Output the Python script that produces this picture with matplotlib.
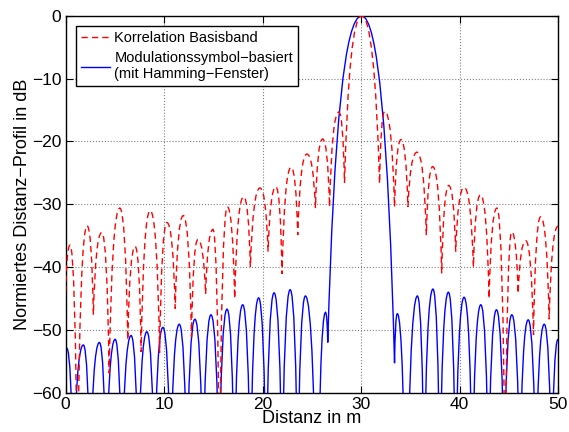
import matplotlib
matplotlib.use("Agg")
import matplotlib.pyplot as plt
from matplotlib.path import Path
from matplotlib.patches import PathPatch
from matplotlib.lines import Line2D

plt.rcParams['font.family'] = ['Liberation Sans', 'DejaVu Sans']

# Red curve: baseband correlation, alternating lobe peaks and nulls
red_x = [0.0, 0.45, 1.19, 2.18, 2.82, 3.67, 4.42, 5.5, 6.31, 7.06, 7.67, 8.59, 9.55,
         10.28, 11.13, 11.95, 12.78, 13.43, 14.22, 14.96, 15.62, 16.42, 17.17, 18.08,
         18.76, 19.74, 20.56, 21.35, 21.98, 22.9, 23.57, 24.5, 25.37, 26.1, 26.8, 27.74,
         28.32, 30.05, 31.88, 32.4, 33.4, 34.05, 34.76, 35.68, 36.63, 37.27, 38.19, 38.9,
         39.61, 40.46, 41.41, 42.12, 43.0, 43.8, 44.63, 45.3, 45.95, 46.72, 47.51, 48.23,
         49.1, 50.0]
red_y = [-44.0, -36.5, -75.0, -33.4, -47.6, -34.5, -56.9, -30.6, -51.6, -36.7, -53.5, -31.0, -53.6,
         -32.9, -46.6, -31.8, -51.1, -35.6, -44.3, -34.0, -75.0, -30.4, -45.0, -28.8,
         -40.0, -27.4, -37.5, -27.2, -41.1, -24.1, -34.9, -22.0, -30.6, -19.6, -30.4, -15.3,
         -26.6, 0.0, -26.7, -15.2, -30.4, -19.7, -30.4, -21.7, -34.9, -24.0, -41.0, -27.0,
         -37.5, -27.3, -40.0, -28.5, -45.0, -30.6, -75.0, -34.4, -44.2, -35.8, -50.8, -32.0,
         -48.3, -33.5]

# Blue curve: modulation-symbol based with Hamming window
blue_x = [0.0, 0.11, 0.78, 1.8, 2.48, 3.43, 4.11, 5.03, 5.7, 6.65, 7.37, 8.25, 9.02, 9.88,
          10.65, 11.54, 12.32, 13.13, 13.95, 14.76, 15.58, 16.39, 17.13, 17.98, 18.76, 19.6,
          20.36, 21.17, 21.98, 22.8, 23.57, 24.35, 25.55, 26.39, 26.62, 30.05, 33.4, 33.68,
          34.58, 35.72, 36.4, 37.3, 38.0, 38.87, 39.6, 40.46, 41.3, 42.16, 42.94, 43.75,
          44.53, 45.31, 46.12, 46.97, 47.75, 48.6, 49.35, 50.0]
blue_y = [-53.1, -52.9, -75.0, -52.4, -75.0, -52.0, -75.0, -51.5, -75.0, -50.9, -75.0, -50.3, -75.0, -49.6,
          -75.0, -49.1, -75.0, -48.3, -75.0, -47.6, -75.0, -46.7, -75.0, -46.0, -75.0, -44.9,
          -75.0, -44.1, -75.0, -43.6, -75.0, -44.6, -90.0, -47.2, -52.0, 0.0, -55.3, -47.4,
          -90.0, -44.6, -75.0, -43.5, -75.0, -44.0, -75.0, -44.8, -75.0, -46.0, -75.0, -46.8,
          -75.0, -47.6, -75.0, -48.4, -75.0, -49.1, -75.0, -51.5]

labels = ['Korrelation Basisband', 'Modulationssymbol\u2212basiert\n(mit Hamming\u2212Fenster)']


def lobe_path(xs, ys, k=0.27):
    """Rounded lobes: quadratic segments that flatten out at the upper point."""
    verts = [(xs[0], ys[0])]
    codes = [Path.MOVETO]
    for x0, y0, x1, y1 in zip(xs[:-1], ys[:-1], xs[1:], ys[1:]):
        if y1 >= y0:
            ctrl = (x0 + k * (x1 - x0), y1)
        else:
            ctrl = (x1 - k * (x1 - x0), y0)
        verts += [ctrl, (x1, y1)]
        codes += [Path.CURVE3, Path.CURVE3]
    return Path(verts, codes)


fig = plt.figure(figsize=(5.69, 4.32), dpi=100)
ax = fig.add_axes([0.1153, 0.091, 0.8654, 0.8722])

red_style = dict(color='red', lw=1.0, linestyle=(0, (4.5, 3)))
blue_style = dict(color='blue', lw=1.0, linestyle='-')

ax.add_patch(PathPatch(lobe_path(red_x, red_y), fill=False, transform=ax.transData,
                       edgecolor=red_style['color'], lw=red_style['lw'],
                       linestyle=red_style['linestyle'], zorder=3))
ax.add_patch(PathPatch(lobe_path(blue_x, blue_y), fill=False, transform=ax.transData,
                       edgecolor=blue_style['color'], lw=blue_style['lw'],
                       linestyle=blue_style['linestyle'], zorder=2))

ax.set_xlim(0, 50)
ax.set_ylim(-60, 0)
ax.set_xticks([0, 10, 20, 30, 40, 50])
ax.set_yticks([-60, -50, -40, -30, -20, -10, 0])
ax.grid(True, linestyle=':', color='0.5', linewidth=0.8)
ax.tick_params(direction='in', top=True, right=True, length=5, labelsize=12.5, pad=3)
for s in ax.spines.values():
    s.set_linewidth(1.0)

ax.set_xlabel('Distanz in m', fontsize=13, labelpad=-1)
ax.set_ylabel('Normiertes Distanz\u2212Profil in dB', fontsize=13, labelpad=1)

handles = [Line2D([], [], **red_style), Line2D([], [], **blue_style)]
leg = ax.legend(handles, labels, loc='upper left', bbox_to_anchor=(0.0205, 0.973),
                fontsize=10.5, frameon=True, fancybox=False, framealpha=1,
                edgecolor='black', borderaxespad=0, handlelength=2.0,
                handletextpad=0.3, labelspacing=0.4, borderpad=0.35)
leg.get_frame().set_linewidth(1.0)

fig.savefig('out.png', dpi=100)
